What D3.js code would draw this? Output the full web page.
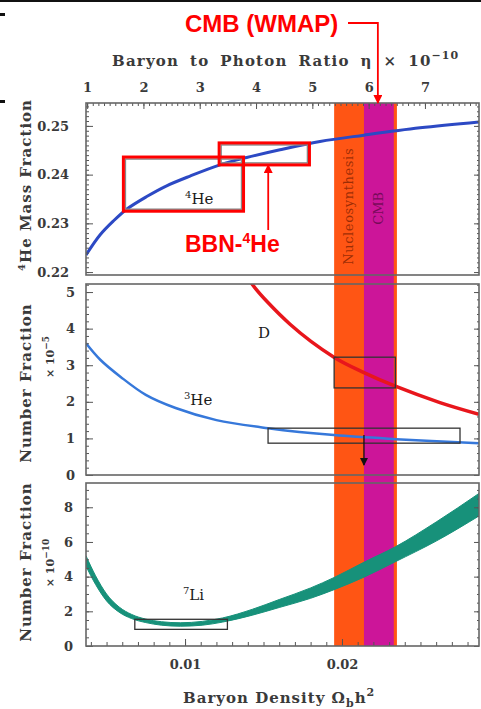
<!DOCTYPE html>
<html>
<head>
<meta charset="utf-8">
<script src="https://cdn.jsdelivr.net/npm/d3@7"></script>
<style>
body { margin: 0; background: #fff; }
svg { display: block; }
.tick text { font-family: 'DejaVu Serif', serif; font-weight: bold; fill: #3a3a3a; }
</style>
</head>
<body>
<div id="chart"></div>
<script>
let width = 481
let height = 709

// x values are baryon density Omega_b h^2
let heOmega = [0.00369, 0.00458, 0.00541, 0.00628, 0.00756, 0.00883, 0.01032, 0.01223, 0.01393, 0.01605, 0.0186, 0.0214, 0.02497, 0.02873]
let heFrac = [0.2235, 0.2276, 0.2304, 0.2329, 0.2355, 0.2377, 0.2397, 0.2420, 0.2435, 0.2451, 0.2468, 0.2481, 0.2496, 0.2508]

let dOmega = [0.0140, 0.01427, 0.01669, 0.01949, 0.0214, 0.02344, 0.02624, 0.02873]
let dFrac = [5.45, 5.22, 4.12, 3.22, 2.80, 2.42, 1.98, 1.66]

let he3Omega = [0.00369, 0.0046, 0.0059, 0.0075, 0.0094, 0.012, 0.01529, 0.01949, 0.02344, 0.02873]
let he3Frac = [3.6, 3.15, 2.68, 2.19, 1.83, 1.5, 1.28, 1.09, 0.98, 0.87]

let liOmega = [0.00369, 0.0043, 0.0050, 0.0058, 0.0066, 0.0075, 0.0085, 0.0097, 0.0111, 0.0124, 0.0143, 0.0160, 0.0180, 0.0195, 0.0214, 0.0234, 0.0260, 0.02873]
let liLow = [4.6, 3.55, 2.6, 1.95, 1.58, 1.35, 1.2, 1.14, 1.2, 1.38, 1.78, 2.22, 2.75, 3.25, 3.97, 4.86, 6.05, 7.5]
let liHigh = [5.2, 4.05, 3.0, 2.25, 1.82, 1.55, 1.4, 1.34, 1.42, 1.62, 2.12, 2.68, 3.35, 3.95, 4.83, 5.72, 7.15, 8.8]

// observational boxes [x0, x1, y0, y1]
let he4Boxes = [[0.0062, 0.0136, 0.2329, 0.2432], [0.0123, 0.0178, 0.2424, 0.2461]]
let dBox = [0.0195, 0.0234, 2.38, 3.22]
let he3Box = [0.01529, 0.02752, 0.87, 1.28]
let he3Limit = [0.0214, 1.09, 0.27]
let liBox = [0.0068, 0.0127, 0.96, 1.54]

// vertical bands
let nucBand = [0.0195, 0.0235]
let cmbBand = [0.0214, 0.0233]

// tick labels
let etaTicks = [1, 2, 3, 4, 5, 6, 7]
let omegaTicks = [0.01, 0.02]
let heTicks = [0.22, 0.23, 0.24, 0.25]
let dTicks = [0, 1, 2, 3, 4, 5]
let liTicks = [0, 2, 4, 6, 8]

let left = 86
let right = 479
let panels = {
	'he': {'top': 103, 'bottom': 275},
	'd': {'top': 284, 'bottom': 475},
	'li': {'top': 483, 'bottom': 646},
}

let xScale = d3.scaleLinear()
	.domain([0.00369, 0.02873])
	.range([left, right])

let etaScale = d3.scaleLinear()
	.domain([0.98, 7.96])
	.range([left, right])

let yHe = d3.scaleLinear()
	.domain([0.2194, 0.2547])
	.range([panels.he.bottom, panels.he.top])

let yD = d3.scaleLinear()
	.domain([0, 5.22])
	.range([panels.d.bottom, panels.d.top])

let yLi = d3.scaleLinear()
	.domain([0, 9.4])
	.range([panels.li.bottom, panels.li.top])

let svg = d3.select('#chart').append('svg')
	.attr('width', width)
	.attr('height', height)

let defs = svg.append('defs')

function marker(id, color, size) {
	defs.append('marker')
		.attr('id', id)
		.attr('viewBox', '0 0 10 10')
		.attr('refX', 9)
		.attr('refY', 5)
		.attr('markerWidth', size)
		.attr('markerHeight', size)
		.attr('markerUnits', 'userSpaceOnUse')
		.attr('orient', 'auto')
		.append('path')
		.attr('d', 'M0,0 L10,5 L0,10 z')
		.attr('fill', color)
}
marker('redArrow', '#f00', 9)
marker('blackArrow', '#111', 8)

Object.keys(panels).forEach((k) => {
	defs.append('clipPath').attr('id', 'clip-' + k)
		.append('rect')
		.attr('x', left)
		.attr('y', panels[k].top)
		.attr('width', right - left)
		.attr('height', panels[k].bottom - panels[k].top)
})

// top black strip and little marks from the slide
svg.append('rect').attr('x', 0).attr('y', 0).attr('width', width).attr('height', 2).attr('fill', '#111')
svg.append('rect').attr('x', 0).attr('y', 13).attr('width', 5).attr('height', 3).attr('fill', '#111')
svg.append('rect').attr('x', 0).attr('y', 100).attr('width', 5).attr('height', 3).attr('fill', '#111')

// bands run through all three panels
svg.append('rect')
	.attr('x', xScale(nucBand[0]))
	.attr('y', panels.he.top)
	.attr('width', xScale(nucBand[1]) - xScale(nucBand[0]))
	.attr('height', panels.li.bottom - panels.he.top)
	.attr('fill', '#ff5514')
svg.append('rect')
	.attr('x', xScale(cmbBand[0]))
	.attr('y', panels.he.top)
	.attr('width', xScale(cmbBand[1]) - xScale(cmbBand[0]))
	.attr('height', panels.li.bottom - panels.he.top)
	.attr('fill', '#cc1599')

let bandText = svg.append('g')
	.style('font-family', 'DejaVu Serif, serif')
	.style('font-size', '13px')
bandText.append('text')
	.attr('transform', `translate(${(xScale(nucBand[0]) + xScale(cmbBand[0])) / 2 + 4},${yHe(0.2335)}) rotate(-90)`)
	.attr('text-anchor', 'middle')
	.attr('fill', '#7a2000')
	.attr('fill-opacity', 0.75)
	.style('letter-spacing', '0.6px')
	.text('Nucleosynthesis')
bandText.append('text')
	.attr('transform', `translate(${(xScale(cmbBand[0]) + xScale(cmbBand[1])) / 2 + 4},${yHe(0.2331)}) rotate(-90)`)
	.attr('text-anchor', 'middle')
	.attr('fill', '#5a0844')
	.attr('fill-opacity', 0.75)
	.text('CMB')

let smooth = d3.curveCatmullRom.alpha(0.5)

// --- helium-4 panel
let heG = svg.append('g').attr('clip-path', 'url(#clip-he)')
heG.append('path')
	.datum(d3.zip(heOmega, heFrac))
	.attr('d', d3.line().x(d => xScale(d[0])).y(d => yHe(d[1])).curve(smooth))
	.attr('fill', 'none')
	.attr('stroke', '#2c49c4')
	.attr('stroke-width', 3)

he4Boxes.forEach((b) => {
	heG.append('rect')
		.attr('x', xScale(b[0]))
		.attr('y', yHe(b[3]))
		.attr('width', xScale(b[1]) - xScale(b[0]))
		.attr('height', yHe(b[2]) - yHe(b[3]))
		.attr('fill', 'none')
		.attr('stroke', '#888')
		.attr('stroke-width', 1.5)
	svg.append('rect')
		.attr('x', xScale(b[0]) - 2)
		.attr('y', yHe(b[3]) - 2)
		.attr('width', xScale(b[1]) - xScale(b[0]) + 4)
		.attr('height', yHe(b[2]) - yHe(b[3]) + 4)
		.attr('fill', 'none')
		.attr('stroke', '#f00')
		.attr('stroke-width', 3)
})

// --- D and helium-3 panel
let dG = svg.append('g').attr('clip-path', 'url(#clip-d)')
dG.append('path')
	.datum(d3.zip(dOmega, dFrac))
	.attr('d', d3.line().x(d => xScale(d[0])).y(d => yD(d[1])).curve(smooth))
	.attr('fill', 'none')
	.attr('stroke', '#e8161c')
	.attr('stroke-width', 3.5)
dG.append('path')
	.datum(d3.zip(he3Omega, he3Frac))
	.attr('d', d3.line().x(d => xScale(d[0])).y(d => yD(d[1])).curve(smooth))
	.attr('fill', 'none')
	.attr('stroke', '#3678da')
	.attr('stroke-width', 2.5)

let boxStyle = (sel) => sel.attr('fill', 'none').attr('stroke', '#333').attr('stroke-width', 1.3)
dG.append('rect')
	.attr('x', xScale(dBox[0]))
	.attr('y', yD(dBox[3]))
	.attr('width', xScale(dBox[1]) - xScale(dBox[0]))
	.attr('height', yD(dBox[2]) - yD(dBox[3]))
	.call(boxStyle)
dG.append('rect')
	.attr('x', xScale(he3Box[0]))
	.attr('y', yD(he3Box[3]))
	.attr('width', xScale(he3Box[1]) - xScale(he3Box[0]))
	.attr('height', yD(he3Box[2]) - yD(he3Box[3]))
	.call(boxStyle)
dG.append('line')
	.attr('x1', xScale(he3Limit[0]))
	.attr('x2', xScale(he3Limit[0]))
	.attr('y1', yD(he3Limit[1]))
	.attr('y2', yD(he3Limit[2]))
	.attr('stroke', '#111')
	.attr('stroke-width', 1.3)
	.attr('marker-end', 'url(#blackArrow)')

// --- lithium-7 panel
let liG = svg.append('g').attr('clip-path', 'url(#clip-li)')
liG.append('path')
	.datum(d3.zip(liOmega, liLow, liHigh))
	.attr('d', d3.area().x(d => xScale(d[0])).y0(d => yLi(d[1])).y1(d => yLi(d[2])).curve(d3.curveMonotoneX))
	.attr('fill', '#17917a')
	.attr('stroke', '#17917a')
	.attr('stroke-width', 1)
liG.append('rect')
	.attr('x', xScale(liBox[0]))
	.attr('y', yLi(liBox[3]))
	.attr('width', xScale(liBox[1]) - xScale(liBox[0]))
	.attr('height', yLi(liBox[2]) - yLi(liBox[3]))
	.call(boxStyle)

// --- frames and axes
function minors(lo, hi, step) {
	return d3.range(Math.ceil(lo / step - 1e-6), Math.floor(hi / step + 1e-6) + 1).map(i => +(i * step).toFixed(6))
}

let axes = svg.append('g')

function yAxes(scale, major, step, fmt, pad) {
	let d = scale.domain()
	let g = axes.append('g')
	// inward ticks on the left edge
	g.append('g').attr('transform', `translate(${left},0)`)
		.call(d3.axisRight(scale).tickValues(minors(d[0], d[1], step)).tickSize(3).tickFormat(''))
	g.append('g').attr('transform', `translate(${left},0)`)
		.call(d3.axisRight(scale).tickValues(major).tickSize(7).tickFormat(''))
	g.append('g').attr('transform', `translate(${left},0)`)
		.call(d3.axisLeft(scale).tickValues(major).tickSize(0).tickPadding(pad).tickFormat(fmt))
		.selectAll('text').style('font-size', '13px')
	// and on the right edge
	g.append('g').attr('transform', `translate(${right},0)`)
		.call(d3.axisLeft(scale).tickValues(minors(d[0], d[1], step)).tickSize(2).tickFormat(''))
	g.append('g').attr('transform', `translate(${right},0)`)
		.call(d3.axisLeft(scale).tickValues(major).tickSize(5).tickFormat(''))
	g.selectAll('.domain').remove()
	g.selectAll('line').attr('stroke', '#555')
}

yAxes(yHe, heTicks, 0.001, d3.format('.2f'), 17)
yAxes(yD, dTicks, 0.2, d3.format('d'), 11)
yAxes(yLi, liTicks, 0.5, d3.format('d'), 13)

// eta axis on top of the first panel
let etaG = axes.append('g').attr('transform', `translate(0,${panels.he.top})`)
etaG.append('g').call(d3.axisBottom(etaScale).tickValues(minors(1, 7.9, 0.1)).tickSize(3).tickFormat(''))
etaG.append('g').call(d3.axisBottom(etaScale).tickValues(etaTicks).tickSize(6).tickFormat(''))
etaG.append('g').call(d3.axisTop(etaScale).tickValues(etaTicks).tickSize(0).tickPadding(11).tickFormat(d3.format('d')))
	.selectAll('text').style('font-size', '13px')
etaG.selectAll('.domain').remove()
etaG.selectAll('line').attr('stroke', '#555')

// omega axis below the last panel
let omG = axes.append('g').attr('transform', `translate(0,${panels.li.bottom})`)
omG.append('g').call(d3.axisTop(xScale).tickValues(minors(0.004, 0.028, 0.001)).tickSize(4).tickFormat(''))
omG.append('g').call(d3.axisTop(xScale).tickValues(omegaTicks).tickSize(7).tickFormat(''))
omG.append('g').call(d3.axisBottom(xScale).tickValues(omegaTicks).tickSize(0).tickPadding(14).tickFormat(d3.format('.2f')))
	.selectAll('text').style('font-size', '13px')
omG.selectAll('.domain').remove()
omG.selectAll('line').attr('stroke', '#555')

Object.keys(panels).forEach((k) => {
	svg.append('rect')
		.attr('x', left)
		.attr('y', panels[k].top)
		.attr('width', right - left)
		.attr('height', panels[k].bottom - panels[k].top)
		.attr('fill', 'none')
		.attr('stroke', '#666')
		.attr('stroke-width', 1.6)
})

// --- labels
let lab = svg.append('g')
	.style('font-family', 'DejaVu Serif, serif')
	.style('font-weight', 'bold')
	.attr('fill', '#3a3a3a')

let t1 = lab.append('text').attr('x', 112).attr('y', 66).style('font-size', '15px')
	.style('letter-spacing', '1.2px').style('word-spacing', '4.5px')
t1.append('tspan').text('Baryon to Photon Ratio \u03b7 \u00d7 10')
t1.append('tspan').attr('dy', -7).style('font-size', '11px').style('letter-spacing', '1px').text('\u221210')

let t2 = lab.append('text').attr('x', 183).attr('y', 703).style('font-size', '15px').style('letter-spacing', '1px')
t2.append('tspan').text('Baryon Density \u03a9')
t2.append('tspan').attr('dy', 4).style('font-size', '11px').text('b')
t2.append('tspan').attr('dy', -4).text('h')
t2.append('tspan').attr('dy', -7).style('font-size', '11px').text('2')

let yl1 = lab.append('text').attr('transform', `translate(31,${(panels.he.top + panels.he.bottom) / 2 - 4}) rotate(-90)`)
	.attr('text-anchor', 'middle').style('font-size', '15px').style('letter-spacing', '1px')
yl1.append('tspan').attr('dy', -6).style('font-size', '10px').text('4')
yl1.append('tspan').attr('dy', 6).text('He Mass Fraction')

lab.append('text').attr('transform', 'translate(31,383) rotate(-90)')
	.attr('text-anchor', 'middle').style('font-size', '15px').style('letter-spacing', '1px')
	.text('Number Fraction')
let yl2 = lab.append('text').attr('transform', 'translate(54,357) rotate(-90)')
	.attr('text-anchor', 'middle').style('font-size', '11px')
yl2.append('tspan').text('\u00d7 10')
yl2.append('tspan').attr('dy', -5).style('font-size', '9px').text('\u22125')

lab.append('text').attr('transform', 'translate(31,562) rotate(-90)')
	.attr('text-anchor', 'middle').style('font-size', '15px').style('letter-spacing', '1px')
	.text('Number Fraction')
let yl3 = lab.append('text').attr('transform', 'translate(54,563) rotate(-90)')
	.attr('text-anchor', 'middle').style('font-size', '11px')
yl3.append('tspan').text('\u00d7 10')
yl3.append('tspan').attr('dy', -5).style('font-size', '9px').text('\u221210')

// element names inside the panels
function element(x, y, mass, name) {
	let t = lab.append('text').attr('x', x).attr('y', y).style('font-size', '15px').style('font-weight', 'normal').attr('fill', '#1a1a1a')
	if (mass) t.append('tspan').attr('dy', -6).style('font-size', '10px').text(mass)
	t.append('tspan').attr('dy', mass ? 6 : 0).text(name)
}
element(xScale(0.0100), yHe(0.234), '4', 'He')
element(xScale(0.01465), yD(3.74), null, 'D')
element(xScale(0.00993), yD(1.91), '3', 'He')
element(xScale(0.00987), yLi(2.63), '7', 'Li')

// red annotations
let ann = svg.append('g')
	.style('font-family', 'Liberation Sans, Arial, sans-serif')
	.style('font-weight', 'bold')
	.attr('fill', '#f00')

ann.append('text').attr('x', 185).attr('y', 32).style('font-size', '24px').text('CMB (WMAP)')
let cmbX = xScale((cmbBand[0] + cmbBand[1]) / 2) - 1
ann.append('path')
	.attr('d', `M348,23 H${cmbX} V${panels.he.top}`)
	.attr('fill', 'none')
	.attr('stroke', '#f00')
	.attr('stroke-width', 1.8)
	.attr('marker-end', 'url(#redArrow)')

let bbn = ann.append('text').attr('x', 185).attr('y', 252).style('font-size', '23px')
bbn.append('tspan').text('BBN-')
bbn.append('tspan').attr('dy', -9).style('font-size', '14px').text('4')
bbn.append('tspan').attr('dy', 9).text('He')
let arrowX = xScale(0.0153)
ann.append('line')
	.attr('x1', arrowX).attr('x2', arrowX)
	.attr('y1', 230).attr('y2', yHe(he4Boxes[1][2]) + 2)
	.attr('stroke', '#f00')
	.attr('stroke-width', 1.8)
	.attr('marker-end', 'url(#redArrow)')
</script>
</body>
</html>
